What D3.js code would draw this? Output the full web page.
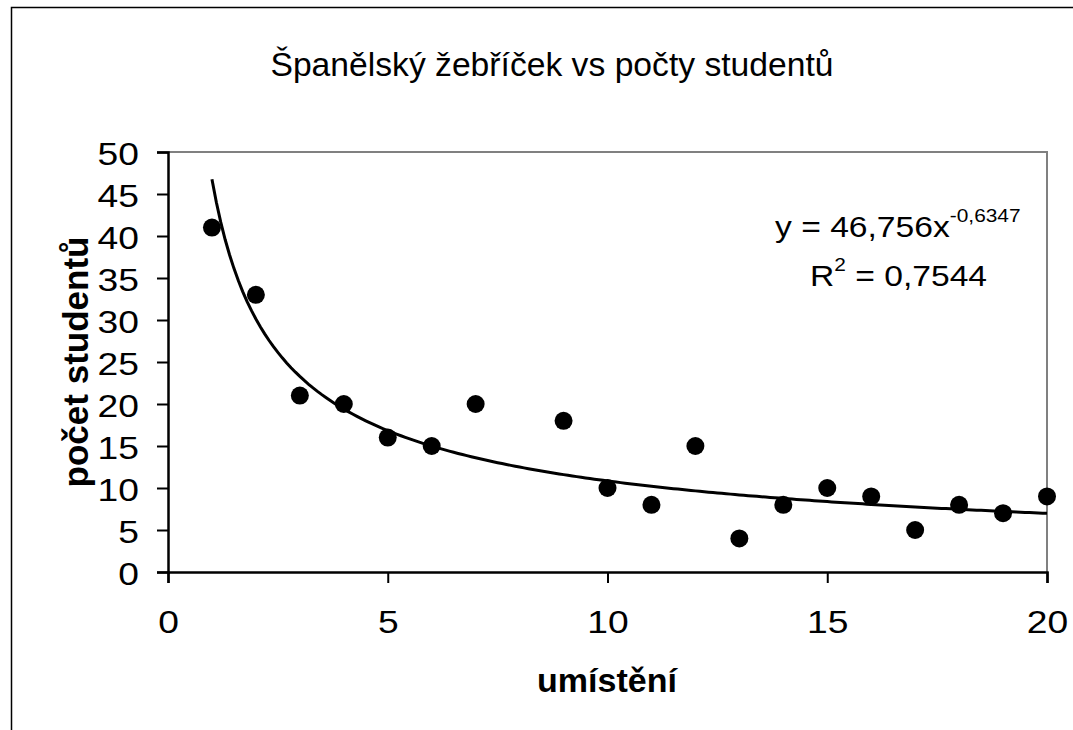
<!DOCTYPE html>
<html>
<head>
<meta charset="utf-8">
<script src="https://cdn.jsdelivr.net/npm/d3@7"></script>
<style>
  body { margin: 0; background: #fff; }
  svg { display: block; font-family: "Liberation Sans", Arial, sans-serif; }
</style>
</head>
<body>
<svg id="chart" width="1073" height="730"></svg>
<script>
// umístění (rank) vs počet studentů
const placement = [1, 2, 3, 4, 5, 6, 7, 9, 10, 11, 12, 13, 14, 15, 16, 17, 18, 19, 20];
const students = [41, 33, 21, 20, 16, 15, 20, 18, 10, 8, 15, 4, 8, 10, 9, 5, 8, 7, 9];
const xTicks = [0, 5, 10, 15, 20];
const yTicks = [0, 5, 10, 15, 20, 25, 30, 35, 40, 45, 50];
// power trendline as shown in the chart
const trendA = 46.756;
const trendB = -0.6347;
const trendR2 = "0,7544";

const svg = d3.select("#chart");
const margin = { left: 168, top: 152, right: 1047, bottom: 572 };

const x = d3.scaleLinear().domain([0, 20]).range([margin.left, margin.right]);
const y = d3.scaleLinear().domain([0, 50]).range([margin.bottom, margin.top]);

// text in the original is a bit wider than plain Arial
const label = (tx, ty, sx, size) => svg.append("text")
  .attr("transform", `translate(${tx},${ty}) scale(${sx},1)`)
  .attr("font-size", size);

// outer chart border (runs off the canvas on right and bottom)
svg.append("rect")
  .attr("x", 11.5).attr("y", 7.5)
  .attr("width", 1100).attr("height", 800)
  .attr("fill", "none").attr("stroke", "#000").attr("stroke-width", 1.5);

// plot area frame (top/right grey)
svg.append("path")
  .attr("d", `M${margin.left},${margin.top}H${margin.right}V${margin.bottom}`)
  .attr("fill", "none").attr("stroke", "#808080").attr("stroke-width", 2);

label(552, 76, 1.02, 33)
  .attr("text-anchor", "middle")
  .text("Španělský žebříček vs počty studentů");

// axes
const xAxis = svg.append("g")
  .attr("transform", `translate(0,${margin.bottom})`)
  .call(d3.axisBottom(x).tickValues(xTicks).tickSize(11).tickPadding(28).tickFormat(d3.format("d")));
const yAxis = svg.append("g")
  .attr("transform", `translate(${margin.left},0)`)
  .call(d3.axisLeft(y).tickValues(yTicks).tickSize(11).tickFormat(d3.format("d")));

[xAxis, yAxis].forEach(g => {
  g.select(".domain").attr("stroke", "#000").attr("stroke-width", 2.5);
  g.selectAll(".tick line").attr("stroke", "#000").attr("stroke-width", 2);
  g.selectAll(".tick text")
    .attr("fill", "#000")
    .attr("font-size", 31)
    .attr("font-family", "Liberation Sans, Arial, sans-serif");
});
xAxis.selectAll(".tick text").attr("transform", "scale(1.2,1)");
yAxis.selectAll(".tick text")
  .attr("x", null)
  .attr("dy", "0.4em")
  .attr("transform", "translate(-29,0) scale(1.2,1)");

// axis titles
svg.append("text")
  .attr("x", 607).attr("y", 692)
  .attr("text-anchor", "middle")
  .attr("font-size", 34).attr("font-weight", "bold")
  .text("umístění");
svg.append("text")
  .attr("transform", `translate(88,362) rotate(-90)`)
  .attr("text-anchor", "middle")
  .attr("font-size", 35).attr("font-weight", "bold")
  .text("počet studentů");

// trendline
const trendX = d3.range(1, 20.001, 0.1);
const line = d3.line()
  .x(d => x(d))
  .y(d => y(trendA * Math.pow(d, trendB)));
svg.append("path")
  .datum(trendX)
  .attr("d", line)
  .attr("fill", "none")
  .attr("stroke", "#000")
  .attr("stroke-width", 3);

// points
svg.append("g")
  .selectAll("circle")
  .data(placement.map((p, i) => ({ p, s: students[i] })))
  .join("circle")
  .attr("cx", d => x(d.p))
  .attr("cy", d => y(d.s))
  .attr("r", 9)
  .attr("fill", "#000");

// equation label
const eq = label(775, 237, 1.16, 29);
eq.append("tspan").text("y = " + String(trendA).replace(".", ",") + "x");
eq.append("tspan").attr("dy", -15).attr("font-size", 18)
  .text(String(trendB).replace(".", ","));
const r2 = label(810, 286, 1.16, 29);
r2.append("tspan").text("R");
r2.append("tspan").attr("dy", -15).attr("font-size", 18).text("2");
r2.append("tspan").attr("dy", 15).text(" = " + trendR2);
</script>
</body>
</html>
